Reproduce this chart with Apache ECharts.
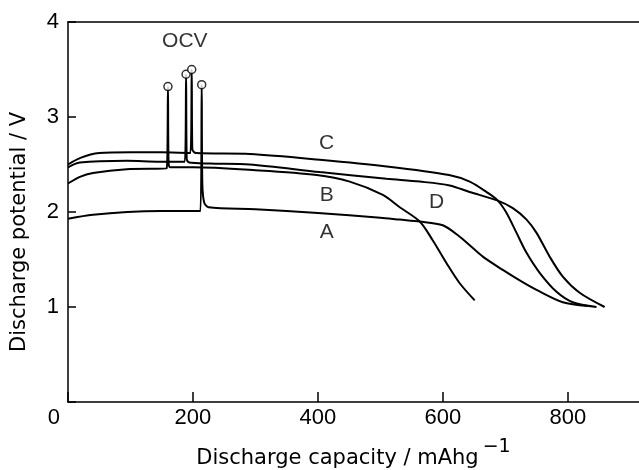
<!DOCTYPE html>
<html>
<head>
<meta charset="utf-8">
<script src="https://cdn.jsdelivr.net/npm/echarts@6/dist/echarts.min.js"></script>
<style>
  html, body { margin: 0; padding: 0; background: #fff; }
  #chart { width: 639px; height: 470px; }
</style>
</head>
<body>
<div id="chart"></div>
<script>
// discharge curves, [capacity mAh/g, potential V]
var curveA = [[0, 1.93], [40, 1.97], [95, 2.0], [150, 2.01], [212, 2.01], [214, 3.34], [215, 2.3], [218, 2.1], [225, 2.05],
  [300, 2.03], [400, 1.99], [500, 1.94], [531, 1.92], [563, 1.9], [600, 1.86], [627, 1.74], [643, 1.65], [664, 1.53],
  [696, 1.39], [723, 1.28], [750, 1.18], [792, 1.05], [832, 1.01]];
var curveB = [[0, 2.3], [19, 2.37], [40, 2.41], [94, 2.45], [158, 2.46], [160, 3.32], [161, 2.52], [164, 2.47], [200, 2.47],
  [300, 2.44], [398, 2.39], [451, 2.32], [504, 2.18], [531, 2.05], [563, 1.9], [584, 1.7], [606, 1.46], [627, 1.25], [651, 1.07]];
var curveC = [[0, 2.5], [20, 2.57], [50, 2.62], [100, 2.63], [150, 2.63], [196, 2.62], [198, 3.5], [199, 2.66], [205, 2.62],
  [291, 2.61], [403, 2.55], [510, 2.48], [610, 2.39], [643, 2.32], [670, 2.21], [688, 2.12], [702, 1.99], [718, 1.78],
  [734, 1.57], [755, 1.36], [782, 1.16], [808, 1.05], [846, 1.0]];
var curveD = [[0, 2.47], [19, 2.52], [94, 2.54], [147, 2.53], [187, 2.53], [189, 3.45], [190, 2.56], [194, 2.52], [227, 2.51],
  [291, 2.5], [403, 2.42], [510, 2.35], [563, 2.32], [611, 2.28], [643, 2.21], [688, 2.12], [712, 2.04], [734, 1.92],
  [750, 1.78], [771, 1.53], [792, 1.32], [819, 1.15], [859, 1.0]];
var ocvPoints = [[160, 3.32], [189, 3.45], [198, 3.5], [214, 3.34]];
var curveLabels = [['OCV', 187, 3.8], ['C', 414, 2.72], ['B', 414, 2.18], ['A', 414, 1.79], ['D', 590, 2.1]];
var xTicks = [0, 200, 400, 600, 800];
var yTicks = [0, 1, 2, 3, 4];

var chart = echarts.init(document.getElementById('chart'), null, { renderer: 'canvas' });

function curve(name, data) {
  return {
    name: name,
    type: 'line',
    data: data,
    symbol: 'none',
    smooth: 0.3,
    lineStyle: { color: '#000', width: 2 },
    z: 2
  };
}

var tickFont = { fontFamily: '"Liberation Sans", Arial, sans-serif', fontSize: 22, color: '#000' };

var option = {
  backgroundColor: '#fff',
  animation: false,
  grid: { left: 68, right: 0, top: 22, bottom: 68, outerBoundsMode: 'none', containLabel: false },
  xAxis: [{
    type: 'value',
    min: 0,
    max: 914,
    interval: 200,
    name: '{a|Discharge capacity / mAhg}{s|−1}',
    nameLocation: 'middle',
    nameGap: 36,
    nameTextStyle: {
      rich: {
        a: { fontFamily: '"DejaVu Sans", sans-serif', fontSize: 21, color: '#000', verticalAlign: 'bottom' },
        s: { fontFamily: '"DejaVu Sans", sans-serif', fontSize: 19, color: '#000', padding: [0, 0, 12, 4], verticalAlign: 'bottom' }
      }
    },
    axisLine: { show: true, lineStyle: { color: '#000', width: 1.5 } },
    axisTick: { show: true, inside: true, length: 10, lineStyle: { color: '#000', width: 1.5 } },
    splitLine: { show: false },
    axisLabel: Object.assign({
      margin: 5,
      showMaxLabel: false,
      alignMinLabel: 'right',
      formatter: function (v) {
        if (xTicks.indexOf(v) < 0) return '';
        return v === 0 ? '{z|0}' : String(v);
      },
      rich: { z: Object.assign({ padding: [0, 8, 0, 0] }, tickFont) }
    }, tickFont)
  }, {
    type: 'value',
    position: 'top',
    min: 0,
    max: 914,
    axisLine: { show: true, lineStyle: { color: '#000', width: 1.5 } },
    axisTick: { show: false },
    axisLabel: { show: false },
    splitLine: { show: false }
  }],
  yAxis: {
    type: 'value',
    min: 0,
    max: 4,
    interval: 1,
    name: 'Discharge potential / V',
    nameLocation: 'middle',
    nameGap: 38,
    nameTextStyle: { fontFamily: '"DejaVu Sans", sans-serif', fontSize: 21, color: '#000', padding: [0, 40, 0, 0] },
    axisLine: { show: true, lineStyle: { color: '#000', width: 1.5 } },
    axisTick: { show: true, inside: true, length: 8, lineStyle: { color: '#000', width: 1.5 } },
    splitLine: { show: false },
    axisLabel: Object.assign({
      margin: 9,
      formatter: function (v) {
        return (v === 0 || yTicks.indexOf(v) < 0) ? '' : String(v);
      }
    }, tickFont)
  },
  series: [
    curve('A', curveA),
    curve('B', curveB),
    curve('C', curveC),
    curve('D', curveD),
    {
      name: 'OCV',
      type: 'scatter',
      data: ocvPoints,
      symbol: 'circle',
      symbolSize: 8,
      itemStyle: { color: '#fff', borderColor: '#000', borderWidth: 1.5 },
      z: 3
    },
    {
      name: 'labels',
      type: 'scatter',
      data: curveLabels.map(function (l) { return { name: l[0], value: [l[1], l[2]] }; }),
      symbolSize: 0,
      label: {
        show: true,
        position: 'inside',
        formatter: '{b}',
        fontFamily: '"Liberation Sans", Arial, sans-serif',
        fontSize: 21,
        color: '#000'
      },
      z: 4
    }
  ]
};

chart.setOption(option);
</script>
</body>
</html>
